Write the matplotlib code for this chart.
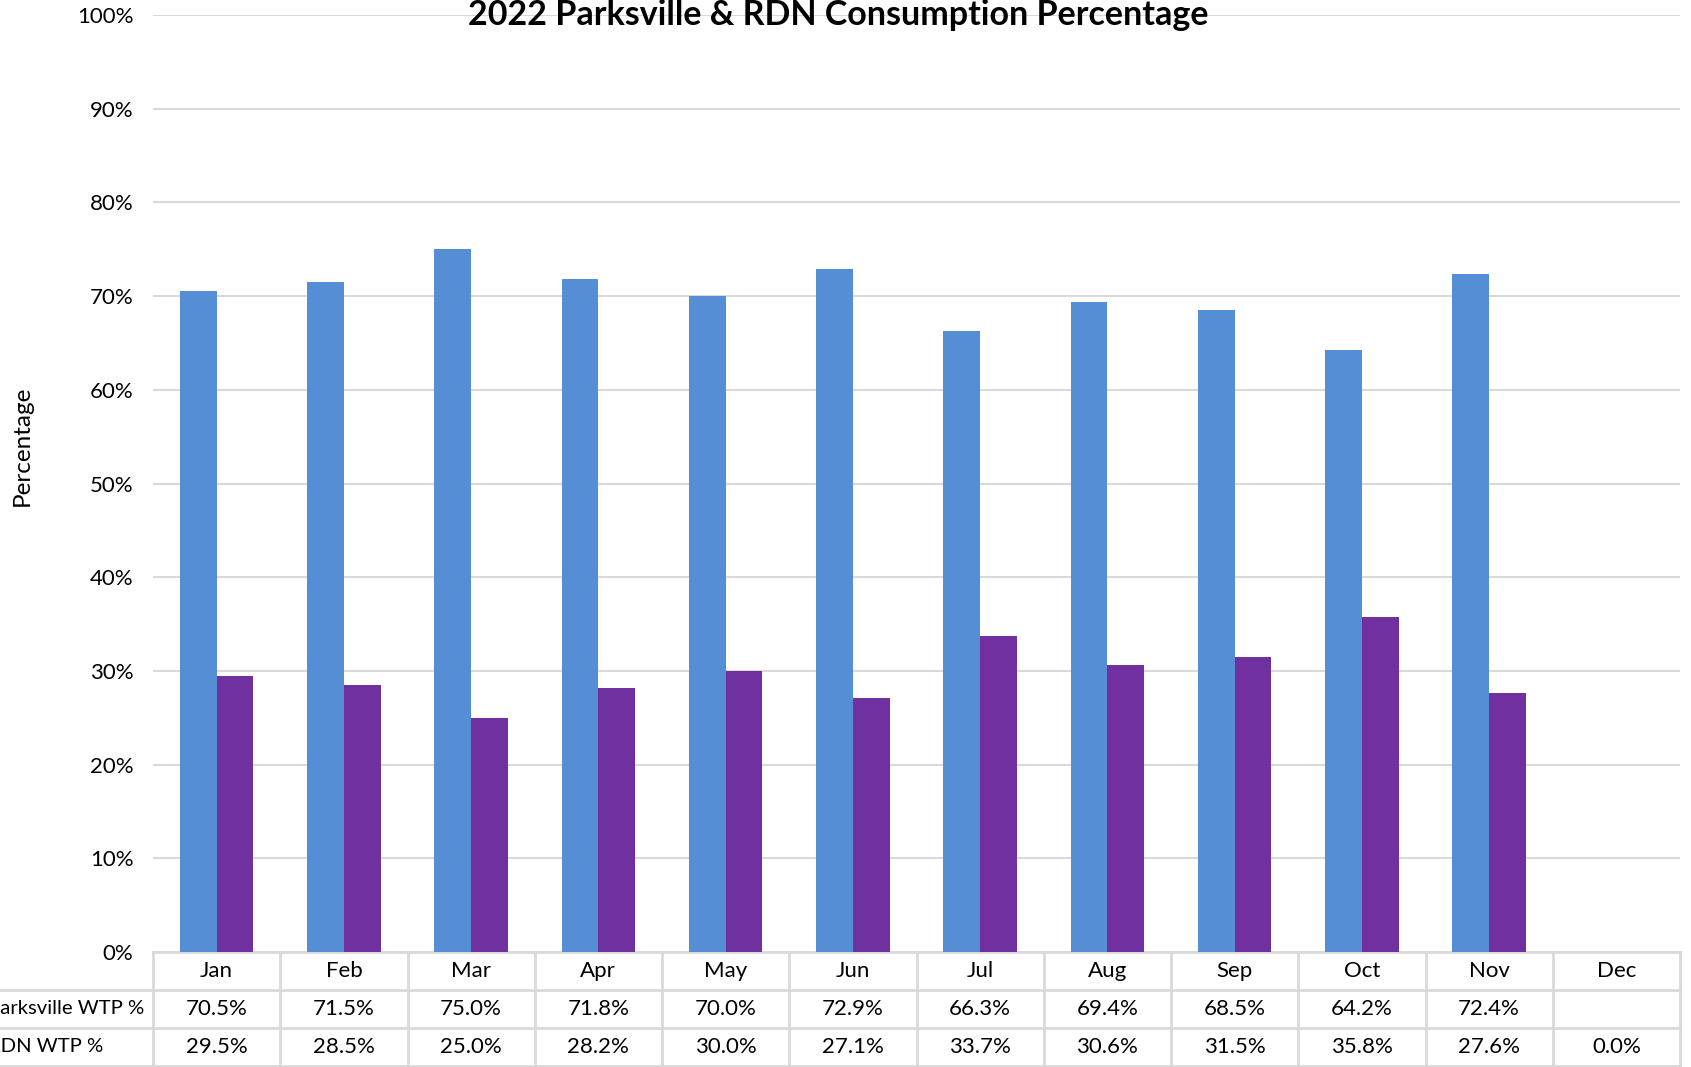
import numpy as np
import matplotlib.pyplot as plt
from matplotlib.ticker import PercentFormatter

months = ["Jan", "Feb", "Mar", "Apr", "May", "Jun", "Jul", "Aug", "Sep", "Oct", "Nov", "Dec"]
parksville = [70.5, 71.5, 75.0, 71.8, 70.0, 72.9, 66.3, 69.4, 68.5, 64.2, 72.4, None]
rdn = [29.5, 28.5, 25.0, 28.2, 30.0, 27.1, 33.7, 30.6, 31.5, 35.8, 27.6, 0.0]
series_names = ["Parksville WTP %", "RDN WTP %"]

plt.rcParams['font.family'] = ['Lato', 'DejaVu Sans']
fs = 16

fig = plt.figure(figsize=(16.91, 10.67), dpi=100)
W, H = 1691, 1067
left, right, bottom, top = 153, 1680, 952, 15
ax = fig.add_axes([left / W, 1 - bottom / H, (right - left) / W, (bottom - top) / H])

x = np.arange(len(months))
bw = 0.288
pv = [np.nan if v is None else v / 100 for v in parksville]
rv = [v / 100 for v in rdn]
ax.bar(x - bw / 2, pv, width=bw, color="#558ED5", zorder=3)
ax.bar(x + bw / 2, rv, width=bw, color="#7030A0", zorder=3)

ax.set_xlim(-0.5, len(months) - 0.5)
ax.set_ylim(0, 1)
ax.set_yticks(np.arange(0, 1.01, 0.1))
ax.yaxis.set_major_formatter(PercentFormatter(1.0, decimals=0))
ax.tick_params(axis='y', length=0, labelsize=fs, pad=14)
ax.set_xticks([])
ax.grid(axis='y', color="#D9D9D9", linewidth=1.5, zorder=0)
for s in ax.spines.values():
    s.set_visible(False)

ax.set_ylabel("Percentage", fontsize=17.5)
ax.yaxis.set_label_coords(-0.079, 0.54)

fig.text(838 / W, 1 - 25 / H, "2022 Parksville & RDN Consumption Percentage",
         fontsize=24.5, fontweight='bold', ha='center', va='baseline')

# data table below the axis
rh = 38 / (bottom - top)
lc = "#D9D9D9"
lw = 2
xl = -left / (right - left)
trans = ax.get_yaxis_transform()
ax.plot([0, 1], [0, 0], transform=trans, color=lc, lw=lw, clip_on=False)
for k in (1, 2, 3):
    ax.plot([xl, 1], [-k * rh, -k * rh], transform=trans, color=lc, lw=lw, clip_on=False)
for b in np.arange(-0.5, len(months), 1.0):
    ax.plot([b, b], [0, -3 * rh], color=lc, lw=lw, clip_on=False)

for i, m in enumerate(months):
    ax.text(i, -0.5 * rh, m, ha='center', va='center', fontsize=fs, clip_on=False)
    if parksville[i] is not None:
        ax.text(i, -1.5 * rh, f"{parksville[i]:.1f}%", ha='center', va='center', fontsize=fs)
    ax.text(i, -2.5 * rh, f"{rdn[i]:.1f}%", ha='center', va='center', fontsize=fs)

# row labels are left aligned and start just past the left edge
xlab = -(left + 12) / (right - left)
for k, name in enumerate(series_names):
    ax.text(xlab, -(k + 1.5) * rh, name, transform=trans, ha='left', va='center', fontsize=14.6)

fig.savefig("out.png", dpi=100)
